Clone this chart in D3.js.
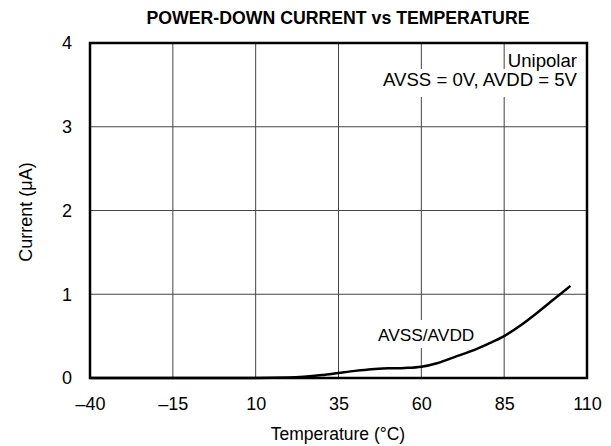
<!DOCTYPE html>
<html><head><meta charset="utf-8">
<script src="https://cdn.jsdelivr.net/npm/d3@7"></script>
<style>body{margin:0;background:#fff}svg{display:block;font-family:"Liberation Sans",Arial,sans-serif}</style>
</head><body>
<svg id="c" width="611" height="446"></svg>
<script>
const temps = [-40, -15, 10, 20, 30, 35, 40, 45, 50, 55, 60, 65, 70, 75, 80, 85, 90, 95, 100, 105];
const current = [0, 0, 0, 0.005, 0.035, 0.06, 0.085, 0.105, 0.115, 0.12, 0.135, 0.18, 0.25, 0.32, 0.405, 0.50, 0.63, 0.78, 0.94, 1.10];
const xTicks = [-40, -15, 10, 35, 60, 85, 110];
const xTickLabels = ["\u201340", "\u201315", "10", "35", "60", "85", "110"];
const yTicks = [0, 1, 2, 3, 4];

const svg = d3.select("#c");
const L = 90, R = 587, T = 43, B = 378;
const x = d3.scaleLinear().domain([-40, 110]).range([L, R]);
const y = d3.scaleLinear().domain([0, 4]).range([B, T]);
const FF = "Liberation Sans, Arial, sans-serif";

// grid
svg.append("g").selectAll("line").data(xTicks.slice(1, -1)).join("line")
  .attr("x1", d => x(d)).attr("x2", d => x(d)).attr("y1", T).attr("y2", B)
  .attr("stroke", "#444").attr("stroke-width", 1);
svg.append("g").selectAll("line").data(yTicks.slice(1, -1)).join("line")
  .attr("y1", d => y(d)).attr("y2", d => y(d)).attr("x1", L).attr("x2", R)
  .attr("stroke", "#444").attr("stroke-width", 1);

// axes labels via d3 axes
const xa = svg.append("g").attr("transform", `translate(0,${B})`)
  .call(d3.axisBottom(x).tickValues(xTicks).tickFormat((d, i) => xTickLabels[i]).tickSize(0).tickPadding(19));
xa.select(".domain").remove();
xa.selectAll("text").attr("font-size", 18).attr("fill", "#000").attr("font-family", FF);
const ya = svg.append("g").attr("transform", `translate(${L},0)`)
  .call(d3.axisLeft(y).tickValues(yTicks).tickFormat(d3.format("d")).tickSize(0).tickPadding(18));
ya.select(".domain").remove();
ya.selectAll("text").attr("font-size", 18).attr("fill", "#000").attr("font-family", FF);

// annotation with white background
svg.append("rect").attr("x", 377).attr("y", 69).attr("width", 207).attr("height", 28).attr("fill", "#fff");
svg.append("text").attr("x", 577).attr("y", 67).attr("text-anchor", "end").attr("font-size", 18.6).text("Unipolar");
svg.append("text").attr("x", 577).attr("y", 86).attr("text-anchor", "end").attr("font-size", 18.6).text("AVSS = 0V, AVDD = 5V");

svg.append("rect").attr("x", 376).attr("y", 320).attr("width", 104).attr("height", 28).attr("fill", "#fff");
svg.append("text").attr("x", 378).attr("y", 341).attr("font-size", 17.3).text("AVSS/AVDD");

// curve
const pts = temps.map((t, i) => [t, current[i]]);
svg.append("path").datum(pts)
  .attr("d", d3.line().x(d => x(d[0])).y(d => y(d[1])).curve(d3.curveMonotoneX))
  .attr("fill", "none").attr("stroke", "#000").attr("stroke-width", 2.5);

// frame
svg.append("rect").attr("x", L).attr("y", T).attr("width", R - L).attr("height", B - T)
  .attr("fill", "none").attr("stroke", "#000").attr("stroke-width", 2.5);

// titles
svg.append("text").attr("x", 338).attr("y", 24).attr("text-anchor", "middle")
  .attr("font-size", 17.7).attr("font-weight", "bold").text("POWER-DOWN CURRENT vs TEMPERATURE");
svg.append("text").attr("x", 338).attr("y", 440).attr("text-anchor", "middle")
  .attr("font-size", 17.5).text("Temperature (\u00B0C)");
svg.append("text").attr("transform", "translate(32,212) rotate(-90)").attr("text-anchor", "middle")
  .attr("font-size", 18).text("Current (\u03BCA)");
</script>
</body></html>
